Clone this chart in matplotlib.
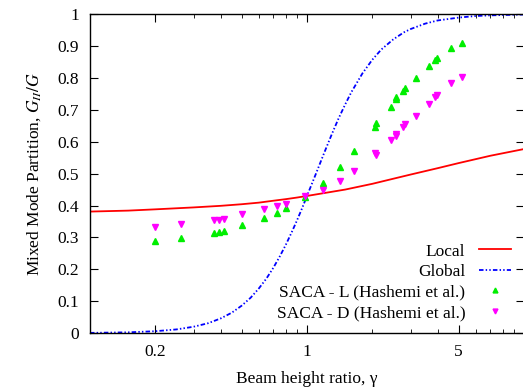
import numpy as np
import matplotlib
matplotlib.use('Agg')
import matplotlib.pyplot as plt
from matplotlib.ticker import FixedLocator, LogLocator, NullFormatter, FormatStrFormatter

plt.rcParams['font.family'] = ['Liberation Serif', 'DejaVu Serif']
plt.rcParams['mathtext.fontset'] = 'stix'

# curves
gamma_local = [0.1, 0.15, 0.2, 0.3, 0.4, 0.5, 0.6, 0.7, 0.8, 0.9, 1.0, 1.2, 1.5,
               2.0, 2.5, 3.0, 4.0, 5.0, 7.0, 10.0]
local = [0.381, 0.384, 0.388, 0.394, 0.399, 0.404, 0.409, 0.415, 0.420, 0.425, 0.430,
         0.439, 0.450, 0.468, 0.484, 0.497, 0.517, 0.533, 0.556, 0.577]

gamma_global = [0.1, 0.15, 0.2, 0.25, 0.3, 0.35, 0.4, 0.45, 0.5, 0.55, 0.6, 0.65, 0.7,
                0.75, 0.8, 0.85, 0.9, 0.95, 1.0, 1.1, 1.2, 1.3, 1.4, 1.5, 1.6, 1.8,
                2.0, 2.2, 2.5, 2.8, 3.0, 3.5, 4.0, 5.0, 6.0, 7.0, 8.0, 10.0]
global_ = [0.0008, 0.0025, 0.006, 0.0116, 0.020, 0.031, 0.046, 0.064, 0.086, 0.111,
           0.140, 0.171, 0.205, 0.241, 0.278, 0.316, 0.354, 0.392, 0.430, 0.500, 0.565,
           0.623, 0.674, 0.717, 0.755, 0.814, 0.857, 0.889, 0.921, 0.943, 0.953, 0.970,
           0.980, 0.989, 0.994, 0.996, 0.997, 0.9987]

# SACA data (Hashemi et al.)
gamma_pts = [0.2, 0.264, 0.371, 0.392, 0.414, 0.50, 0.637, 0.728, 0.798, 0.98, 1.18,
             1.42, 1.64, 2.06, 2.09, 2.45, 2.56, 2.58, 2.77, 2.83, 3.18, 3.64, 3.90,
             3.97, 4.59, 5.17]
saca_l = [0.289, 0.297, 0.314, 0.318, 0.319, 0.340, 0.361, 0.378, 0.391, 0.428, 0.469,
          0.521, 0.571, 0.647, 0.659, 0.709, 0.733, 0.741, 0.759, 0.767, 0.800, 0.838,
          0.856, 0.863, 0.894, 0.910]
saca_d = [0.333, 0.342, 0.354, 0.356, 0.357, 0.372, 0.388, 0.399, 0.405, 0.430, 0.449,
          0.477, 0.508, 0.565, 0.558, 0.605, 0.624, 0.617, 0.647, 0.654, 0.680, 0.717,
          0.741, 0.745, 0.785, 0.804]

fig = plt.figure(figsize=(5.23, 3.91), dpi=100)
ax = fig.add_axes([0.172, 0.148, 0.830, 0.816])

ax.plot(gamma_local, local, color='#ff0000', lw=1.3, label='Local')
ax.plot(gamma_global, global_, color='#0000ff', lw=1.3, dashes=(2.5, 1.2, 0.8, 1.2, 0.8, 1.2),
        label='Global')
ax.plot(gamma_pts, saca_l, ls='none', marker='^', ms=5, color='#00ee00', mec='#00ee00',
        label='SACA - L (Hashemi et al.)')
ax.plot(gamma_pts, saca_d, ls='none', marker='v', ms=5, color='#ff00ff', mec='#ff00ff',
        label='SACA - D (Hashemi et al.)')

ax.set_xscale('log')
ax.set_xlim(0.1, 10)
ax.set_ylim(0, 1)
ax.xaxis.set_major_locator(FixedLocator([0.2, 1, 5]))
ax.xaxis.set_major_formatter(FormatStrFormatter('%g'))
ax.xaxis.set_minor_locator(LogLocator(base=10, subs=np.arange(1, 10)))
ax.xaxis.set_minor_formatter(NullFormatter())
ax.set_yticks(np.arange(0, 1.01, 0.1))
ax.yaxis.set_major_formatter(FormatStrFormatter('%g'))
ax.tick_params(which='both', direction='in', top=True, right=True, labelsize=12.5)
ax.tick_params(which='major', length=6, width=0.8, pad=8)
ax.tick_params(which='minor', length=3, width=0.6)
for s in ax.spines.values():
    s.set_linewidth(1.0)

ax.set_xlabel('Beam height ratio, γ', fontsize=12.5, labelpad=8)
ax.set_ylabel(r'Mixed Mode Partition, $G_{II}/G$', fontsize=12.5, labelpad=10)

ax.legend(loc='lower right', frameon=False, markerfirst=False, fontsize=12.5,
          handlelength=1.8, labelspacing=0.25, borderaxespad=0.3, handletextpad=0.8,
          markerscale=0.7, bbox_to_anchor=(0.997, 0.0))

fig.savefig('out.png', dpi=100)
